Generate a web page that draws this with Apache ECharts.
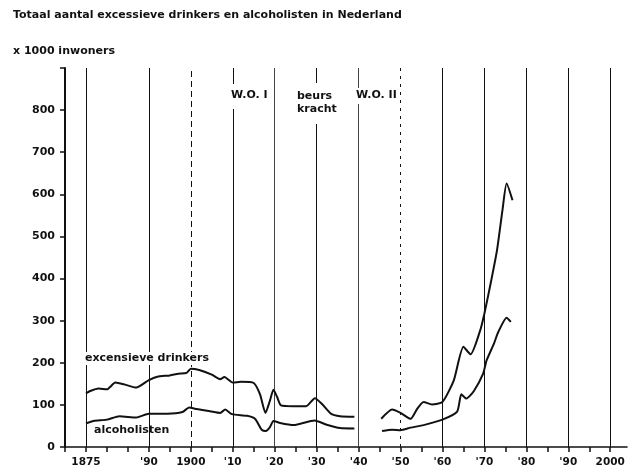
<!DOCTYPE html>
<html>
<head>
<meta charset="utf-8">
<script src="https://cdn.jsdelivr.net/npm/echarts@6/dist/echarts.min.js"></script>
<style>
  html, body { margin: 0; padding: 0; background: #fff; }
  #chart { width: 630px; height: 468px; }
</style>
</head>
<body>
<div id="chart"></div>
<script>
// excessieve drinkers (x 1000), twee stukken met een gat rond de oorlog
const drinkerYears = [1875, 1876, 1878, 1880, 1882, 1884, 1887, 1890, 1892, 1895, 1897, 1899, 1900, 1902, 1905, 1907, 1908, 1910, 1912, 1915, 1916.5, 1917.8, 1918.8, 1919.7, 1920.6, 1921.5, 1924.5, 1927.5, 1929.6, 1931.3, 1933.3, 1935.6, 1939,
  1942,
  1945.4, 1948, 1950, 1952.4, 1954, 1955.5, 1957.5, 1960, 1962.7, 1965, 1966.7, 1969, 1970, 1971.4, 1973, 1974.3, 1975.3, 1976.7]
const drinkerValues = [127, 133, 139, 137, 153, 149, 141, 159, 167, 170, 174, 176, 186, 183, 172, 161, 166, 153, 155, 152, 125, 81, 108, 136, 118, 99, 97, 97, 116, 102, 80, 73, 72,
  null,
  67, 89, 81, 67, 91, 107, 101, 107, 158, 238, 220, 277, 317, 384, 467, 562, 626, 586]

// alcoholisten (x 1000)
const alcYears = [1875, 1876.8, 1880, 1883, 1887, 1890, 1894.4, 1898, 1899.6, 1901.4, 1904.6, 1907, 1908.2, 1909.8, 1913.4, 1915.3, 1916.9, 1917.9, 1918.9, 1919.7, 1921.3, 1924.5, 1929.5, 1932.4, 1935.6, 1939,
  1942,
  1945.6, 1948, 1950, 1952.4, 1955.5, 1960, 1963.5, 1964.5, 1965.7, 1967.5, 1969.7, 1970.5, 1972.3, 1973.3, 1975.3, 1976.3]
const alcValues = [56, 62, 65, 73, 70, 79, 79, 83, 94, 90, 85, 81, 89, 78, 74, 67, 41, 38, 48, 62, 57, 52, 63, 53, 45, 44,
  null,
  38, 41, 40, 46, 52, 65, 84, 125, 115, 133, 174, 205, 246, 273, 307, 297]

// verticale hulplijnen en x-as labels
const gridYears = [1875, 1890, 1900, 1910, 1920, 1930, 1940, 1950, 1960, 1970, 1980, 1990, 2000]
const labelYears = [1875, 1890, 1900, 1910, 1920, 1930, 1940, 1950, 1960, 1970, 1980, 1990, 2000]
const labelTexts = ['1875', "'90", '1900', "'10", "'20", "'30", "'40", "'50", "'60", "'70", "'80", "'90", '2000']

const FONT = '"DejaVu Sans", Verdana, sans-serif'
const INK = '#111'

const lineStyleFor = (y) => {
  if (y === 1900) return { color: INK, width: 1, type: [6, 4] }
  if (y === 1950) return { color: INK, width: 1, type: [3, 5] }
  if (y === 1920 || y === 1940) return { color: '#444', width: 1, type: 'solid' }
  return { color: INK, width: 1, type: 'solid' }
}

const pairs = (xs, ys) => xs.map((x, i) => [x, ys[i]])

const chart = echarts.init(document.getElementById('chart'))

const option = {
  backgroundColor: '#fff',
  animation: false,
  grid: { left: 65, right: 3, top: 68, bottom: 21 },
  xAxis: {
    type: 'value',
    min: 1870,
    max: 2004,
    interval: 5,
    axisLine: { show: true, lineStyle: { color: INK, width: 1.5 } },
    axisTick: { show: true, length: 5, inside: false, lineStyle: { color: INK, width: 1.5 } },
    splitLine: { show: false },
    axisLabel: {
      margin: 10,
      color: INK,
      fontFamily: FONT,
      fontWeight: 'bold',
      fontSize: 10.5,
      showMinLabel: true,
      showMaxLabel: false,
      formatter: (v) => {
        const i = labelYears.indexOf(v)
        return i >= 0 ? labelTexts[i] : ''
      }
    }
  },
  yAxis: {
    type: 'value',
    min: 0,
    max: 900,
    interval: 100,
    axisLine: { show: true, lineStyle: { color: INK, width: 2 } },
    axisTick: { show: true, length: 5, lineStyle: { color: INK, width: 1.5 } },
    splitLine: { show: false },
    axisLabel: {
      margin: 10,
      color: INK,
      fontFamily: FONT,
      fontWeight: 'bold',
      fontSize: 11,
      formatter: (v) => (v === 900 ? '' : String(v))
    }
  },
  series: [
    {
      name: 'excessieve drinkers',
      type: 'line',
      data: pairs(drinkerYears, drinkerValues),
      showSymbol: false,
      smooth: 0.2,
      connectNulls: false,
      lineStyle: { color: INK, width: 2 },
      z: 5,
      markLine: {
        silent: true,
        symbol: ['none', 'none'],
        label: { show: false },
        emphasis: { disabled: true },
        data: gridYears.map((y) => ({ xAxis: y, lineStyle: lineStyleFor(y) }))
      }
    },
    {
      name: 'alcoholisten',
      type: 'line',
      data: pairs(alcYears, alcValues),
      showSymbol: false,
      smooth: 0.2,
      connectNulls: false,
      lineStyle: { color: INK, width: 2 },
      z: 5
    }
  ],
  graphic: [
    {
      type: 'text', left: 13, top: 10, z: 100,
      style: { text: 'Totaal aantal excessieve drinkers en alcoholisten in Nederland', font: 'bold 11px ' + FONT, fill: INK }
    },
    {
      type: 'text', left: 13, top: 46, z: 100,
      style: { text: 'x 1000 inwoners', font: 'bold 11px ' + FONT, fill: INK }
    },
    {
      type: 'text', left: 230, top: 84, z: 100,
      style: { text: 'W.O. I', font: 'bold 11px ' + FONT, fill: INK, backgroundColor: '#fff', padding: [6, 2, 8, 1] }
    },
    {
      type: 'text', left: 296, top: 83, z: 100,
      style: { text: 'beurs\nkracht', font: 'bold 11px ' + FONT, lineHeight: 13, fill: INK, backgroundColor: '#fff', padding: [7, 2, 8, 1] }
    },
    {
      type: 'text', left: 355, top: 88, z: 100,
      style: { text: 'W.O. II', font: 'bold 11px ' + FONT, fill: INK, backgroundColor: '#fff', padding: [2, 0, 3, 1] }
    },
    {
      type: 'text', left: 85, top: 352, z: 100,
      style: { text: 'excensieve drinkers', font: 'bold 11px ' + FONT, fill: INK, backgroundColor: '#fff', padding: [1, 0, 1, 0] }
    },
    {
      type: 'text', left: 94, top: 425, z: 100,
      style: { text: 'alcoholisten', font: 'bold 11px ' + FONT, fill: INK }
    }
  ]
}

chart.setOption(option)
</script>
</body>
</html>
